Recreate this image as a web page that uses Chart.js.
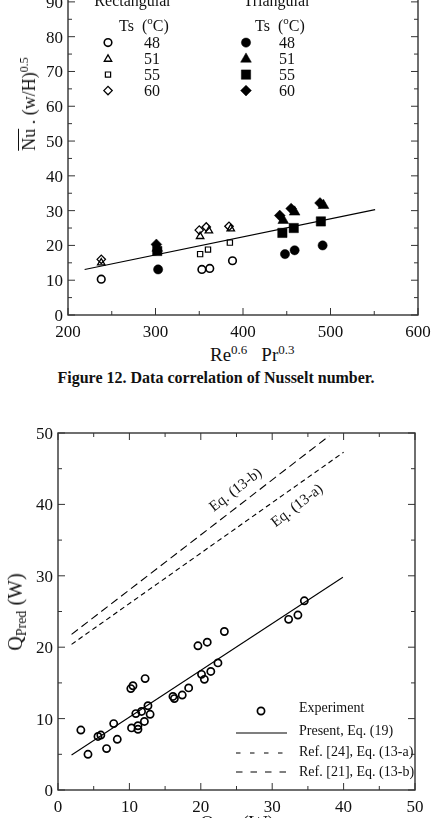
<!DOCTYPE html>
<html>
<head>
<meta charset="utf-8">
<script src="https://cdn.jsdelivr.net/npm/chart.js@4.4.1/dist/chart.umd.min.js"></script>
<style>
  html, body { margin: 0; padding: 0; background: #fff; }
  body { width: 432px; height: 818px; overflow: hidden; position: relative;
         font-family: "Liberation Serif", "Times New Roman", serif; color: #111; }
  canvas { position: absolute; left: 0; }
  #nuChart { top: -40px; }
  #qChart { top: 400px; }
  .lbl { position: absolute; white-space: nowrap; line-height: 1; }
  .rot { transform: translate(-50%, -50%) rotate(-90deg); }
  .up { position: relative; top: -0.55em; }
  .dn { position: relative; top: 0.3em; }
</style>
</head>
<body>
<canvas id="nuChart" width="432" height="380"></canvas>
<canvas id="qChart" width="432" height="418"></canvas>

<!-- axis titles + caption, kept as html text so sub/superscripts are easy -->
<div class="lbl rot" style="left:29px; top:104px; font-size:18px;">
  <span style="text-decoration:overline">Nu</span> . (w/H)<span class="up" style="font-size:12px">0.5</span>
</div>
<div class="lbl" style="left:210px; top:345px; font-size:19px;">
  Re<span class="up" style="font-size:13px">0.6</span><span style="margin-left:14px">Pr</span><span class="up" style="font-size:13px">0.3</span>
</div>
<div class="lbl" style="left:0; width:432px; top:370px; text-align:center; font-size:16px; font-weight:bold;">
  Figure 12. Data correlation of Nusselt number.
</div>
<div class="lbl rot" style="left:15px; top:612px; font-size:20px;">
  Q<span class="dn" style="font-size:14px">Pred</span> (W)
</div>
<div class="lbl" style="left:200px; top:813px; font-size:20px;">
  Q<span class="dn" style="font-size:14px">Exp</span> (W)
</div>

<script>
// ---------- Figure 12 data ----------
const rectX48 = [238, 353, 362, 388];
const rectY48 = [10.3, 13.1, 13.4, 15.6];
const rectX51 = [238, 351, 361, 386];
const rectY51 = [15.0, 22.6, 24.2, 24.8];
const rectX55 = [351, 360, 385];
const rectY55 = [17.5, 18.8, 20.8];
const rectX60 = [238, 350, 358, 384];
const rectY60 = [16.0, 24.4, 25.3, 25.5];

const triX48 = [303, 448, 459, 491];
const triY48 = [13.1, 17.5, 18.6, 20.0];
const triX51 = [302, 446, 459, 492];
const triY51 = [19.2, 27.2, 29.6, 31.5];
const triX55 = [302, 445, 458, 489];
const triY55 = [18.4, 23.6, 25.0, 26.9];
const triX60 = [301, 442, 455, 488];
const triY60 = [20.3, 28.6, 30.6, 32.2];

const fitX = [219, 551];
const fitY = [13.1, 30.3];

const nuXTicks = [200, 300, 400, 500, 600];
const nuXMinor = [250, 350, 450, 550];
const nuYTicks = [0, 10, 20, 30, 40, 50, 60, 70, 80, 90];
const nuYMinor = [5, 15, 25, 35, 45, 55, 65, 75, 85, 95];
const tempLabels = ["48", "51", "55", "60"];

// ---------- Q_pred vs Q_exp data ----------
const expX = [3.2, 4.2, 5.6, 6.0, 6.8, 7.8, 8.3, 10.3, 10.9, 11.2, 11.2, 11.7, 12.1, 12.6, 12.9,
              10.2, 10.5, 12.2, 16.1, 16.3, 17.4, 18.3, 20.1, 20.5, 21.4, 22.4, 19.6, 20.9, 23.3,
              32.3, 33.6, 34.5];
const expY = [8.4, 5.0, 7.5, 7.7, 5.8, 9.3, 7.1, 8.7, 10.7, 9.0, 8.5, 11.0, 9.6, 11.8, 10.6,
              14.2, 14.6, 15.6, 13.1, 12.8, 13.3, 14.3, 16.2, 15.5, 16.6, 17.8, 20.2, 20.7, 22.2,
              23.9, 24.5, 26.5];
const presentX = [1.9, 39.9];
const presentY = [4.9, 29.8];
const eq13aX = [1.9, 40.0];
const eq13aY = [20.4, 47.3];
const eq13bX = [1.9, 38.0];
const eq13bY = [21.8, 49.6];

const qTicks = [0, 10, 20, 30, 40, 50];
const qMinor = [5, 15, 25, 35, 45];
const qLegend = ["Experiment", "Present, Eq. (19)", "Ref. [24], Eq. (13-a)", "Ref. [21], Eq. (13-b)"];

const FONT = '"Liberation Serif", "Times New Roman", serif';
const INK = "#111";

function pts(xs, ys) { return xs.map((x, i) => ({ x, y: ys[i] })); }

function openSet(label, xs, ys, style, r, bw) {
  return { label, data: pts(xs, ys), pointStyle: style, pointRadius: r, borderWidth: bw,
           borderColor: "#000", backgroundColor: "rgba(0,0,0,0)", showLine: false };
}
function solidSet(label, xs, ys, style, r) {
  return { label, data: pts(xs, ys), pointStyle: style, pointRadius: r, borderWidth: 0.5,
           borderColor: "#000", backgroundColor: "#000", showLine: false };
}
function lineSet(label, xs, ys, dash) {
  return { label, data: pts(xs, ys), showLine: true, pointRadius: 0, borderWidth: 1.1,
           borderColor: "#000", borderDash: dash || [], fill: false };
}

function marker(ctx, style, r, bw, filled, x, y) {
  ctx.save();
  ctx.fillStyle = filled ? "#000" : "rgba(0,0,0,0)";
  ctx.strokeStyle = "#000";
  ctx.lineWidth = bw;
  Chart.helpers.drawPoint(ctx, { pointStyle: style, radius: r, borderWidth: bw, rotation: 0 }, x, y);
  ctx.restore();
}

// frame, inward ticks and tick labels, placed through the chart's own scales
const frameTicks = {
  id: "frameTicks",
  afterDatasetsDraw(chart, args, o) {
    const { ctx, chartArea: a, scales: { x, y } } = chart;
    ctx.save();
    ctx.strokeStyle = "#333";
    ctx.lineWidth = 1.4;
    ctx.strokeRect(a.left, a.top, a.right - a.left, a.bottom - a.top);
    ctx.lineWidth = 1;
    const seg = (x1, y1, x2, y2) => { ctx.beginPath(); ctx.moveTo(x1, y1); ctx.lineTo(x2, y2); ctx.stroke(); };
    const xt = (v, len) => { const p = x.getPixelForValue(v); seg(p, a.bottom, p, a.bottom - len); seg(p, a.top, p, a.top + len); };
    const yt = (v, len) => { const p = y.getPixelForValue(v); seg(a.left, p, a.left + len, p); seg(a.right, p, a.right - len, p); };
    o.xMajor.forEach(v => xt(v, 7));
    o.xMinor.forEach(v => xt(v, 4));
    o.yMajor.forEach(v => yt(v, 7));
    o.yMinor.forEach(v => yt(v, 4));

    ctx.fillStyle = INK;
    ctx.font = "17px " + FONT;
    ctx.textAlign = "center";
    ctx.textBaseline = "alphabetic";
    o.xMajor.forEach(v => ctx.fillText(String(v), x.getPixelForValue(v), a.bottom + 22));
    ctx.textAlign = "right";
    o.yMajor.forEach(v => ctx.fillText(String(v), a.left - 5, y.getPixelForValue(v) + 6));
    ctx.restore();
  }
};

// two-column marker key of figure 12
const nuKey = {
  id: "nuKey",
  afterDatasetsDraw(chart) {
    const { ctx, chartArea: a } = chart;
    ctx.save();
    ctx.fillStyle = INK;
    ctx.font = "16px " + FONT;
    ctx.textBaseline = "alphabetic";
    ctx.textAlign = "center";
    ctx.fillText("Rectangular", a.left + 65, a.top + 39);
    ctx.fillText("Triangular", a.left + 209, a.top + 39);

    ctx.textAlign = "left";
    [a.left + 51, a.left + 187].forEach(x0 => {
      const base = a.top + 64;
      ctx.font = "16px " + FONT;
      ctx.fillText("Ts  (", x0, base);
      let w = ctx.measureText("Ts  (").width;
      ctx.font = "11px " + FONT;
      ctx.fillText("o", x0 + w, base - 7);
      w += ctx.measureText("o").width;
      ctx.font = "16px " + FONT;
      ctx.fillText("C)", x0 + w, base);
    });

    const rows = [75.5, 92, 107.5, 123.5];
    const openStyles = [["circle", 3.8, 1.6], ["triangle", 4.3, 1.3], ["rect", 3.7, 1.2], ["rectRot", 4.2, 1.3]];
    const solidStyles = [["circle", 4.6], ["triangle", 6.2], ["rect", 6.6], ["rectRot", 5.4]];
    ctx.textAlign = "center";
    ctx.textBaseline = "middle";
    ctx.font = "16px " + FONT;
    tempLabels.forEach((t, i) => {
      const yy = a.top + rows[i];
      marker(ctx, openStyles[i][0], openStyles[i][1], openStyles[i][2], false, a.left + 40, yy);
      marker(ctx, solidStyles[i][0], solidStyles[i][1], 0.5, true, a.left + 178, yy);
      ctx.fillStyle = INK;
      ctx.fillText(t, a.left + 84, yy + 1);
      ctx.fillText(t, a.left + 219, yy + 1);
    });
    ctx.restore();
  }
};

// key + equation labels of the Q chart
const qKey = {
  id: "qKey",
  afterDatasetsDraw(chart) {
    const { ctx, chartArea: a, scales: { x, y } } = chart;
    ctx.save();
    ctx.fillStyle = INK;
    ctx.strokeStyle = "#000";
    ctx.font = "14px " + FONT;
    ctx.textAlign = "left";
    ctx.textBaseline = "middle";
    const rowsText = [275, 298, 319, 339];
    const rowsLine = [300, 320, 339];
    const dashes = [[], [4.5, 9.5], [6.5, 8]];
    marker(ctx, "circle", 3.6, 1.7, false, a.left + 203, a.top + 278);
    qLegend.forEach((t, i) => ctx.fillText(t, a.left + 241, a.top + rowsText[i]));
    rowsLine.forEach((ly, i) => {
      ctx.setLineDash(dashes[i]);
      ctx.lineWidth = 1.1;
      ctx.beginPath();
      ctx.moveTo(a.left + 178, a.top + ly);
      ctx.lineTo(a.left + 229, a.top + ly);
      ctx.stroke();
    });
    ctx.setLineDash([]);

    // rotated labels along the dashed correlations
    ctx.font = "15px " + FONT;
    const ang = Math.atan2(y.getPixelForValue(eq13bY[1]) - y.getPixelForValue(eq13bY[0]),
                           x.getPixelForValue(eq13bX[1]) - x.getPixelForValue(eq13bX[0]));
    [["Eq. (13-b)", 24.9, 42.0], ["Eq. (13-a)", 33.5, 39.8]].forEach(([t, vx, vy]) => {
      ctx.save();
      ctx.translate(x.getPixelForValue(vx), y.getPixelForValue(vy));
      ctx.rotate(ang);
      ctx.textAlign = "center";
      ctx.fillText(t, 0, 0);
      ctx.restore();
    });
    ctx.restore();
  }
};

const base = {
  responsive: false,
  animation: false,
  events: [],
  plugins: { legend: { display: false }, tooltip: { enabled: false } }
};

new Chart(document.getElementById("nuChart"), {
  type: "scatter",
  data: {
    datasets: [
      lineSet("fit", fitX, fitY),
      openSet("Rect 48", rectX48, rectY48, "circle", 3.8, 1.6),
      openSet("Rect 51", rectX51, rectY51, "triangle", 4.3, 1.3),
      openSet("Rect 55", rectX55, rectY55, "rect", 3.7, 1.2),
      openSet("Rect 60", rectX60, rectY60, "rectRot", 4.2, 1.3),
      solidSet("Tri 48", triX48, triY48, "circle", 4.6),
      solidSet("Tri 55", triX55, triY55, "rect", 6.6),
      solidSet("Tri 51", triX51, triY51, "triangle", 6.2),
      solidSet("Tri 60", triX60, triY60, "rectRot", 5.4)
    ]
  },
  options: {
    ...base,
    layout: { padding: { left: 68, right: 14, top: 6, bottom: 25 } },
    scales: {
      x: { type: "linear", min: 200, max: 600, display: false },
      y: { type: "linear", min: 0, max: 100, display: false }
    },
    plugins: {
      ...base.plugins,
      frameTicks: { xMajor: nuXTicks, xMinor: nuXMinor, yMajor: nuYTicks, yMinor: nuYMinor }
    }
  },
  plugins: [frameTicks, nuKey]
});

new Chart(document.getElementById("qChart"), {
  type: "scatter",
  data: {
    datasets: [
      lineSet("Present, Eq. (19)", presentX, presentY),
      lineSet("Ref. [24], Eq. (13-a)", eq13aX, eq13aY, [5, 3.5]),
      lineSet("Ref. [21], Eq. (13-b)", eq13bX, eq13bY, [8, 4.5]),
      openSet("Experiment", expX, expY, "circle", 3.6, 1.7)
    ]
  },
  options: {
    ...base,
    layout: { padding: { left: 58, right: 17, top: 33, bottom: 28 } },
    scales: {
      x: { type: "linear", min: 0, max: 50, display: false },
      y: { type: "linear", min: 0, max: 50, display: false }
    },
    plugins: {
      ...base.plugins,
      frameTicks: { xMajor: qTicks, xMinor: qMinor, yMajor: qTicks, yMinor: qMinor }
    }
  },
  plugins: [frameTicks, qKey]
});
</script>
</body>
</html>
